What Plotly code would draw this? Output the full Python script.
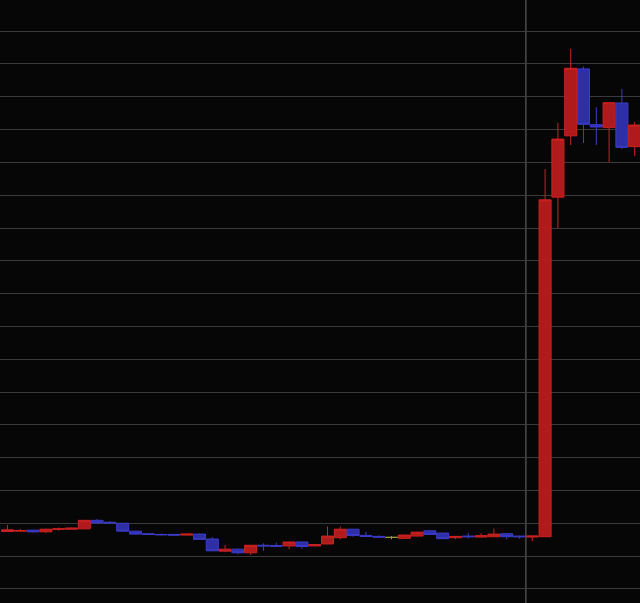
import plotly.graph_objects as go

# Candle index (session order) and OHLC values
idx = list(range(50))
opens = [9975, 9976, 9979, 9974, 9982, 9982, 9983, 10009, 10003, 10000,
         9976, 9968, 9966, 9966, 9964, 9967, 9952, 9915, 9921, 9910,
         9933, 9932, 9931, 9943, 9931, 9937, 9956, 9982, 9963, 9960,
         9957, 9954, 9961, 9977, 9970, 9956, 9961, 9958, 9959, 9968,
         9961, 9958, 9959, 10994, 11181, 11385, 11215, 11206, 11281, 11148]
highs = [9995, 9983, 9980, 9984, 9987, 9987, 10010, 10013, 10007, 10001,
         9977, 9970, 9968, 9967, 9968, 9969, 9958, 9934, 9923, 9934,
         9939, 9941, 9944, 9944, 9937, 9990, 9990, 9983, 9974, 9963,
         9961, 9965, 9974, 9980, 9971, 9961, 9970, 9970, 9984, 9970,
         9962, 9962, 11080, 11221, 11446, 11392, 11268, 11283, 11324, 11223]
lows = [9974, 9974, 9972, 9970, 9977, 9981, 9983, 9999, 9998, 9975,
        9966, 9965, 9963, 9963, 9963, 9949, 9915, 9912, 9905, 9903,
        9916, 9929, 9921, 9922, 9929, 9936, 9951, 9959, 9958, 9956,
        9951, 9953, 9960, 9965, 9952, 9952, 9954, 9957, 9958, 9951,
        9953, 9946, 9958, 10899, 11153, 11159, 11153, 11101, 11140, 11120]
closes = [9980, 9978, 9974, 9982, 9983, 9985, 10009, 10001, 10001, 9976,
          9967, 9966, 9965, 9964, 9967, 9951, 9916, 9921, 9910, 9933,
          9931, 9930, 9943, 9929, 9935, 9961, 9982, 9963, 9960, 9958,
          9957, 9964, 9973, 9966, 9953, 9960, 9959, 9962, 9967, 9959,
          9959, 9961, 10986, 11171, 11387, 11216, 11208, 11282, 11146, 11214]

doji = [30]  # unchanged candle drawn in a neutral colour
separator_after = 40.5  # session divider position
y_tick_step = 100

main_x = [i for i in idx if i not in doji]
sel = lambda arr: [arr[i] for i in main_x]

fig = go.Figure()
fig.add_trace(go.Candlestick(
    x=main_x, open=sel(opens), high=sel(highs), low=sel(lows), close=sel(closes),
    increasing=dict(fillcolor="#b01a1a", line=dict(color="#cc2222", width=1)),
    decreasing=dict(fillcolor="#2e2ea6", line=dict(color="#3c3cc8", width=1)),
    whiskerwidth=0, showlegend=False, hoverinfo="skip",
))
fig.add_trace(go.Candlestick(
    x=doji, open=[opens[i] for i in doji], high=[highs[i] for i in doji],
    low=[lows[i] for i in doji], close=[closes[i] for i in doji],
    increasing=dict(fillcolor="#9a9a3a", line=dict(color="#9a9a3a", width=1)),
    decreasing=dict(fillcolor="#9a9a3a", line=dict(color="#9a9a3a", width=1)),
    whiskerwidth=0, showlegend=False, hoverinfo="skip",
))

fig.add_shape(type="line", xref="x", yref="paper", x0=separator_after, x1=separator_after,
              y0=0, y1=1, line=dict(color="#6e6e6e", width=1), layer="below")

fig.update_layout(
    width=640, height=603,
    margin=dict(l=0, r=0, t=0, b=0),
    paper_bgcolor="#060606", plot_bgcolor="#060606",
    boxgap=0.06, boxgroupgap=0,
    showlegend=False,
    xaxis=dict(range=[-0.586, 49.414], showgrid=False, zeroline=False,
               showticklabels=False, rangeslider=dict(visible=False), fixedrange=True),
    yaxis=dict(range=[9757, 11595], dtick=y_tick_step, tick0=10000,
               showgrid=True, gridcolor="#3a3a3a", gridwidth=1, zeroline=False,
               showticklabels=False, showline=True, linecolor="#3a3a3a", linewidth=1,
               fixedrange=True),
)

fig.write_html(
    "out.html",
    config={"displayModeBar": False},
    post_script="document.body.style.margin='0';document.body.style.background='#060606';document.body.style.overflow='hidden';",
)
